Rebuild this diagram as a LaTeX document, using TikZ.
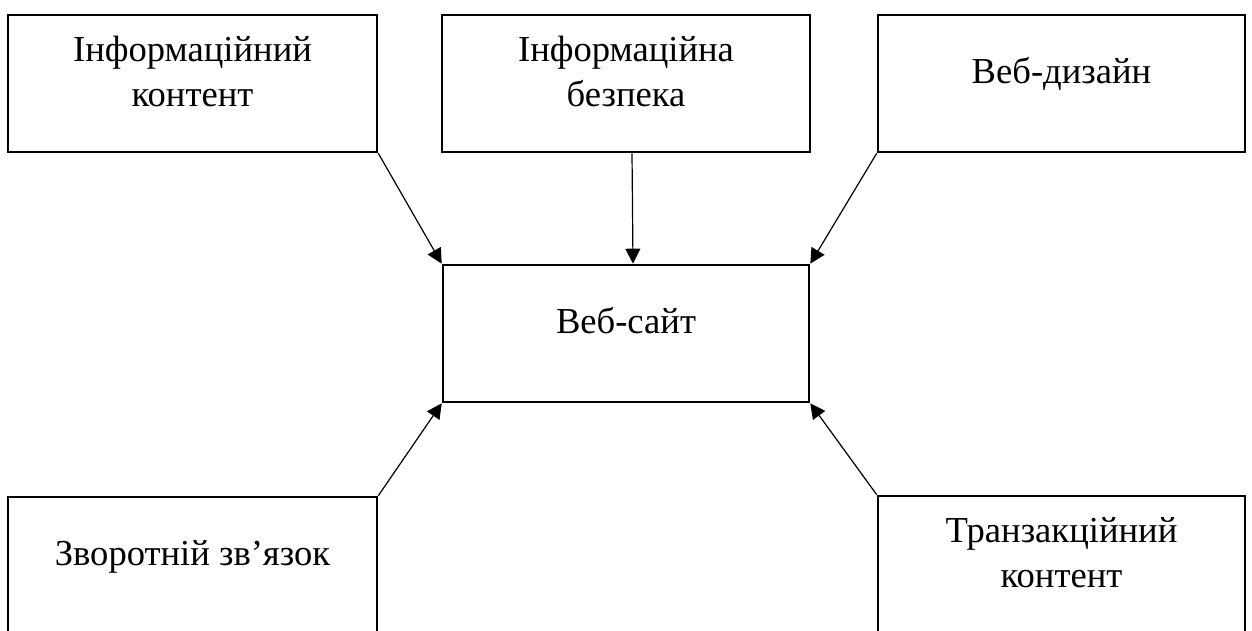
\documentclass[tikz,border=0pt]{standalone}
\usepackage{fontspec}
\setmainfont{Liberation Serif}
\usetikzlibrary{arrows.meta,calc}
\begin{document}
\begin{tikzpicture}[x=1pt,y=-1pt,
  box/.style={draw,line width=2.6pt,rectangle,inner sep=0pt,minimum width=369pt,minimum height=137pt},
  lbl/.style={anchor=base,align=center,inner sep=0pt,font=\fontsize{36.6}{45}\selectfont},
  link/.style={line width=1.2pt,-{Triangle[length=15pt,width=15pt]}}]
  \useasboundingbox (0,0) rectangle (1252,631);
  \begin{scope}
  \clip (0,0) rectangle (1252,631);
  % outer boxes
  \node[box] (info) at (192.5,83.5) {};
  \node[box,minimum width=368pt] (sec) at (626,83.5) {};
  \node[box,minimum width=367pt] (design) at (1061.5,83.5) {};
  \node[box,minimum width=366pt] (site) at (626,333.5) {};
  \node[box] (feedback) at (192.5,565.5) {};
  \node[box,minimum width=367pt] (trans) at (1061.5,564.5) {};
  \end{scope}
  % captions (the base anchor sits on the last line)
  \node[lbl] (info-t) at ($(info.north)+(0,93)$) {Інформаційний\\контент};
  \node[lbl] (sec-t) at ($(sec.north)+(0,93)$) {Інформаційна\\безпека};
  \node[lbl] (design-t) at ($(design.north)+(0,70)$) {Веб-дизайн};
  \node[lbl] (site-t) at ($(site.north)+(0,70)$) {Веб-сайт};
  \node[lbl] (feedback-t) at ($(feedback.north)+(0,70)$) {Зворотній зв’язок};
  \node[lbl] (trans-t) at ($(trans.north)+(0,93)$) {Транзакційний\\контент};
  % connectors
  \draw[link] (info.south east) -- (site.north west);
  \draw[link] ([xshift=6pt]sec.south) -- ([xshift=7pt]site.north);
  \draw[link] (design.south west) -- (site.north east);
  \draw[link] (feedback.north east) -- (site.south west);
  \draw[link] (trans.north west) -- (site.south east);
\end{tikzpicture}
\end{document}
